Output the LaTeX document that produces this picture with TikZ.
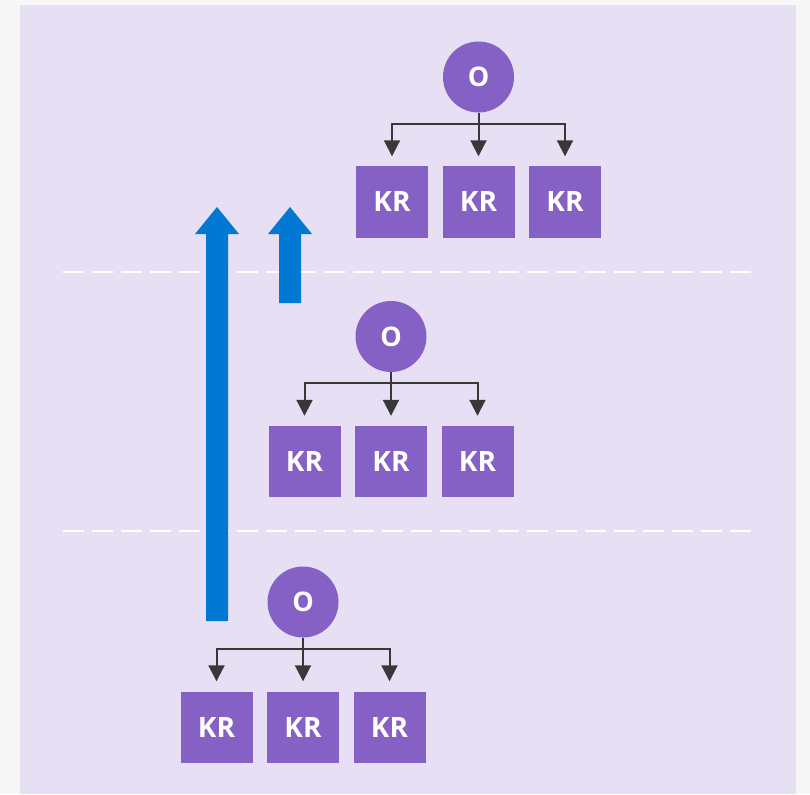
\documentclass[tikz,border=0pt]{standalone}
\usepackage{fontspec}
\setmainfont{Open Sans}
\usetikzlibrary{arrows.meta}

\definecolor{pagegray}{HTML}{F7F7F7}
\definecolor{panel}{HTML}{E7DFF4}
\definecolor{kpurple}{HTML}{8661C5}
\definecolor{kblue}{HTML}{0078D4}
\definecolor{linkgray}{HTML}{383838}

\tikzset{
  owner/.style={circle, fill=kpurple, minimum size=71pt, inner sep=0pt,
    text=white, font=\fontsize{27}{27}\selectfont\bfseries},
  keyrange/.style={rectangle, fill=kpurple, minimum width=72pt, minimum height=71pt,
    inner sep=0pt, text=white, font=\fontsize{28}{28}\selectfont\bfseries},
  separator/.style={white, line width=2.8pt, dash pattern=on 21pt off 8pt},
  movearrow/.style={fill=kblue},
}

\begin{document}
\begin{tikzpicture}[x=1pt, y=1pt,
  level distance=125pt,
  sibling distance=86.5pt,
  every child node/.style={keyrange},
  edge from parent/.style={draw=linkgray, line width=2pt,
    -{Triangle[width=16pt,length=16pt]}, shorten >=10pt},
  edge from parent path={(\tikzparentnode.south) -- ++(0,-11)
    -| (\tikzchildnode.north)}]
\useasboundingbox (0,0) rectangle (810,-794);
\fill[pagegray] (0,0) rectangle (810,-794);
\fill[panel] (20,-5) rectangle (796,-794);

% level separators
\draw[separator] (63,-272) -- (753,-272);
\draw[separator] (63,-531) -- (753,-531);

% move arrows
\fill[movearrow] (206,-621) -- (206,-234) -- (195,-234) -- (217,-207)
  -- (239,-234) -- (228,-234) -- (228,-621) -- cycle;
\fill[movearrow] (279,-303) -- (279,-234) -- (268,-234) -- (290,-207)
  -- (312,-234) -- (301,-234) -- (301,-303) -- cycle;

% top
\node[owner] (otop) at (478.5,-77) {O}
  child {node (krtopa) {KR}}
  child {node (krtopb) {KR}}
  child {node (krtopc) {KR}}
  ;

% middle
\node[owner] (omid) at (391,-336.5) {O}
  child {node (krmida) {KR}}
  child {node (krmidb) {KR}}
  child {node (krmidc) {KR}}
  ;

% bottom
\node[owner] (obot) at (303,-602) {O}
  child {node (krbota) {KR}}
  child {node (krbotb) {KR}}
  child {node (krbotc) {KR}}
  ;

\end{tikzpicture}
\end{document}
